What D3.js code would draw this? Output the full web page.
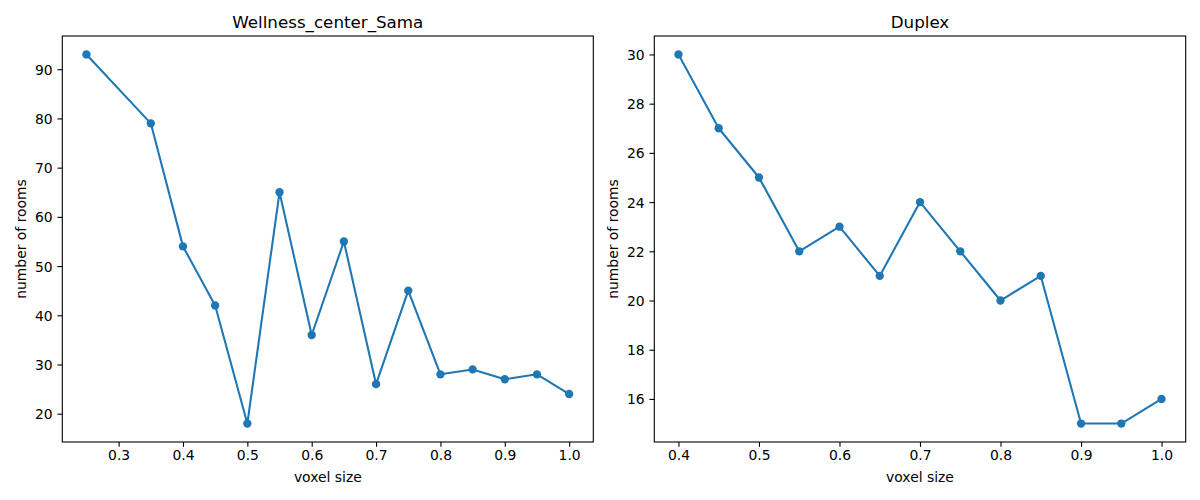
<!DOCTYPE html>
<html>
<head>
<meta charset="utf-8">
<script src="https://cdn.jsdelivr.net/npm/d3@7"></script>
<style>
  html, body { margin: 0; padding: 0; background: #fff; }
  svg { display: block; font-family: "DejaVu Sans", sans-serif; }
</style>
</head>
<body>
<svg id="chart" width="1200" height="500"></svg>
<script>
// ---- data ----
const leftTitle = "Wellness_center_Sama";
const leftX = [0.25, 0.35, 0.4, 0.45, 0.5, 0.55, 0.6, 0.65, 0.7, 0.75, 0.8, 0.85, 0.9, 0.95, 1.0];
const leftY = [93, 79, 54, 42, 18, 65, 36, 55, 26, 45, 28, 29, 27, 28, 24];
const leftXTicks = [0.3, 0.4, 0.5, 0.6, 0.7, 0.8, 0.9, 1.0];
const leftYTicks = [20, 30, 40, 50, 60, 70, 80, 90];

const rightTitle = "Duplex";
const rightX = [0.4, 0.45, 0.5, 0.55, 0.6, 0.65, 0.7, 0.75, 0.8, 0.85, 0.9, 0.95, 1.0];
const rightY = [30, 27, 25, 22, 23, 21, 24, 22, 20, 21, 15, 15, 16];
const rightXTicks = [0.4, 0.5, 0.6, 0.7, 0.8, 0.9, 1.0];
const rightYTicks = [16, 18, 20, 22, 24, 26, 28, 30];

const xLabel = "voxel size";
const yLabel = "number of rooms";

// ---- drawing ----
const svg = d3.select("#chart");
const color = "#1f77b4";
const tickFont = 13.9;
const tickLen = 4.86;

function pad(ext) {
  const m = (ext[1] - ext[0]) * 0.05;
  return [ext[0] - m, ext[1] + m];
}

function panel(box, title, xs, ys, xTicks, yTicks, yLabelX) {
  const x = d3.scaleLinear().domain(pad(d3.extent(xs))).range([box.left, box.right]);
  const y = d3.scaleLinear().domain(pad(d3.extent(ys))).range([box.bottom, box.top]);
  const g = svg.append("g");

  const xAxis = g.append("g")
    .attr("transform", `translate(0,${box.bottom})`)
    .call(d3.axisBottom(x).tickValues(xTicks).tickFormat(d3.format(".1f"))
      .tickSize(tickLen).tickSizeOuter(0).tickPadding(3.6));
  const yAxis = g.append("g")
    .attr("transform", `translate(${box.left},0)`)
    .call(d3.axisLeft(y).tickValues(yTicks).tickFormat(d3.format("d"))
      .tickSize(tickLen).tickSizeOuter(0).tickPadding(4.86));
  [xAxis, yAxis].forEach(a => {
    a.select(".domain").remove();
    a.selectAll(".tick line").attr("stroke", "#000").attr("stroke-width", 1.1);
    a.selectAll(".tick text").attr("fill", "#000")
      .style("font-family", '"DejaVu Sans", sans-serif').style("font-size", tickFont + "px");
  });
  yAxis.selectAll(".tick text").attr("dy", "0.36em");

  const line = d3.line().x((d, i) => x(xs[i])).y(d => y(d));
  g.append("path").datum(ys)
    .attr("d", line).attr("fill", "none").attr("stroke", color)
    .attr("stroke-width", 2.08).attr("stroke-linejoin", "round").attr("stroke-linecap", "square");
  g.selectAll("circle.pt").data(ys).enter().append("circle")
    .attr("class", "pt")
    .attr("cx", (d, i) => x(xs[i])).attr("cy", d => y(d)).attr("r", 4.17)
    .attr("fill", color);

  g.append("rect")
    .attr("x", box.left).attr("y", box.top)
    .attr("width", box.right - box.left).attr("height", box.bottom - box.top)
    .attr("fill", "none").attr("stroke", "#000").attr("stroke-width", 1.1);

  g.append("text")
    .attr("x", (box.left + box.right) / 2).attr("y", box.top - 8.3)
    .attr("text-anchor", "middle").style("font-size", "16.7px").attr("fill", "#000")
    .text(title);
  g.append("text")
    .attr("x", (box.left + box.right) / 2).attr("y", 482)
    .attr("text-anchor", "middle").style("font-size", tickFont + "px").attr("fill", "#000")
    .text(xLabel);
  g.append("text")
    .attr("transform", `translate(${yLabelX},${(box.top + box.bottom) / 2}) rotate(-90)`)
    .attr("text-anchor", "middle").style("font-size", tickFont + "px").attr("fill", "#000")
    .text(yLabel);
}

panel({left: 62.3, right: 593.3, top: 36, bottom: 442}, leftTitle, leftX, leftY, leftXTicks, leftYTicks, 25.5);
panel({left: 654.3, right: 1185.7, top: 36, bottom: 442}, rightTitle, rightX, rightY, rightXTicks, rightYTicks, 618);
</script>
</body>
</html>
